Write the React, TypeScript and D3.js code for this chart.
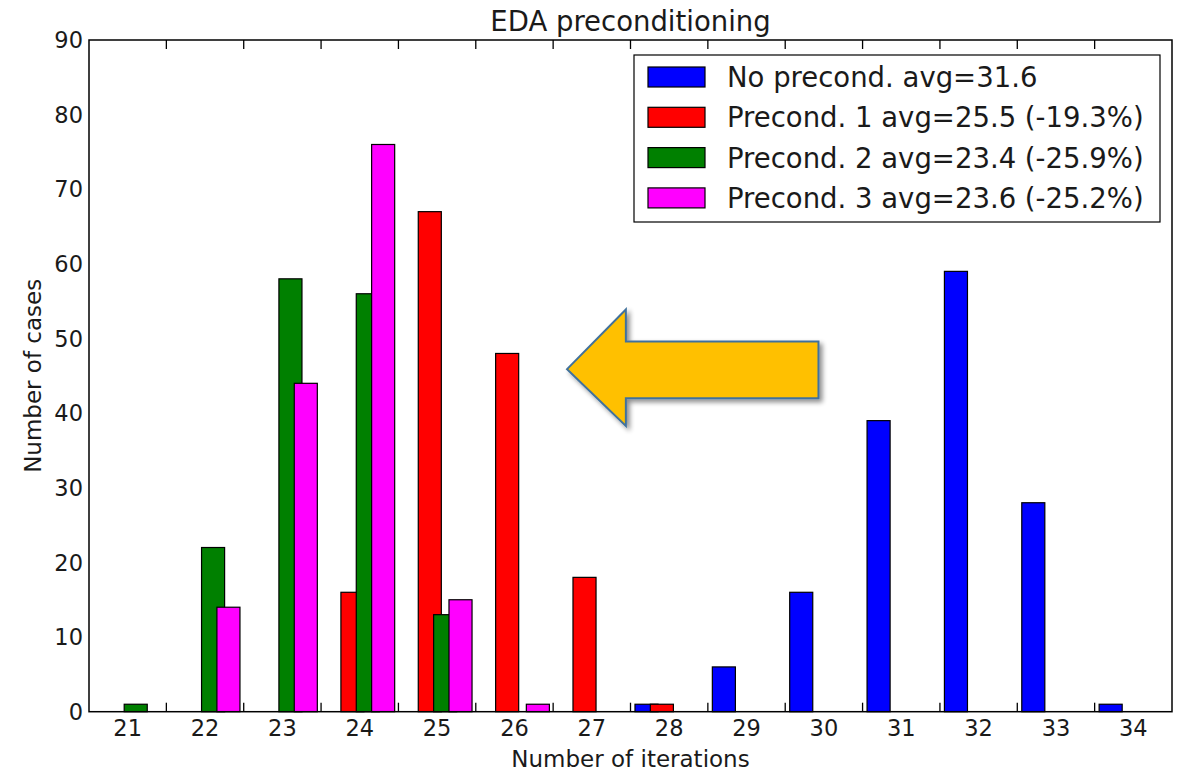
import React from "react";
import * as d3 from "d3";

const categories = [21, 22, 23, 24, 25, 26, 27, 28, 29, 30, 31, 32, 33, 34];
const noPrecond = [0, 0, 0, 0, 0, 0, 0, 1, 6, 16, 39, 59, 28, 1];
const precond1 = [0, 0, 0, 16, 67, 48, 18, 1, 0, 0, 0, 0, 0, 0];
const precond2 = [1, 22, 58, 56, 13, 0, 0, 0, 0, 0, 0, 0, 0, 0];
const precond3 = [0, 14, 44, 76, 15, 1, 0, 0, 0, 0, 0, 0, 0, 0];
const seriesNames = [
  "No precond. avg=31.6",
  "Precond. 1 avg=25.5 (-19.3%)",
  "Precond. 2 avg=23.4 (-25.9%)",
  "Precond. 3 avg=23.6 (-25.2%)",
];
const seriesColors = ["#0000ff", "#ff0000", "#008000", "#ff00ff"];
const yTicks = [0, 10, 20, 30, 40, 50, 60, 70, 80, 90];
const title = "EDA preconditioning";
const xLabel = "Number of iterations";
const yLabel = "Number of cases";

const W = 1183;
const H = 773;
const L = 89, R = 1172, T = 40, B = 711.7;
const FONT = "'DejaVu Sans', sans-serif";
const TXT = "#1a1a1a";

export default function App() {
  const x = d3.scaleLinear().domain([20.5, 34.5]).range([L, R]);
  const y = d3.scaleLinear().domain([0, 90]).range([B, T]);
  const series = [noPrecond, precond1, precond2, precond3];
  const offset0 = -0.442;
  const step = 0.1985;
  const bw = 0.298;
  const boundaries = categories.slice(0, -1).map((c) => c + 0.5);

  // arrow annotation in data coordinates
  const arrowPts: [number, number][] = [
    [26.68, 45.9],
    [27.44, 53.9],
    [27.44, 49.6],
    [29.93, 49.6],
    [29.93, 42.0],
    [27.44, 42.0],
    [27.44, 38.3],
  ];
  const arrowPath =
    "M" + arrowPts.map(([a, b]) => `${x(a)},${y(b)}`).join("L") + "Z";

  const legX = 634, legY = 55, legW = 526, legH = 167;
  const rowH = 40.3;

  return (
    <svg
      width={W}
      height={H}
      style={{ position: "absolute", left: 0, top: 0, background: "#fff" }}
      fontFamily={FONT}
    >
      <defs>
        <filter id="shadow" x="-20%" y="-20%" width="150%" height="150%">
          <feGaussianBlur in="SourceAlpha" stdDeviation="2.5" />
          <feOffset dx="3" dy="3" result="ob" />
          <feComponentTransfer>
            <feFuncA type="linear" slope="0.45" />
          </feComponentTransfer>
          <feMerge>
            <feMergeNode />
            <feMergeNode in="SourceGraphic" />
          </feMerge>
        </filter>
      </defs>
      <rect x={0} y={0} width={W} height={H} fill="#fff" />
      {/* bars */}
      {series.map((vals, si) =>
        vals.map((v, ci) =>
          v > 0 ? (
            <rect
              key={`${si}-${ci}`}
              x={x(categories[ci] + offset0 + si * step)}
              y={y(v)}
              width={x(categories[ci] + offset0 + si * step + bw) - x(categories[ci] + offset0 + si * step)}
              height={y(0) - y(v)}
              fill={seriesColors[si]}
              stroke="#000"
              strokeWidth={1.2}
            />
          ) : null
        )
      )}
      {/* frame */}
      <rect x={L} y={T} width={R - L} height={B - T} fill="none" stroke="#000" strokeWidth={1.5} />
      {/* x ticks */}
      {boundaries.map((b) => (
        <g key={b}>
          <line x1={x(b)} x2={x(b)} y1={B} y2={B - 9} stroke="#000" strokeWidth={1.3} />
          <line x1={x(b)} x2={x(b)} y1={T} y2={T + 9} stroke="#000" strokeWidth={1.3} />
        </g>
      ))}
      {categories.map((c) => (
        <text key={c} x={x(c)} y={736} textAnchor="middle" fontSize={22.5} fill={TXT}>
          {c}
        </text>
      ))}
      {yTicks.map((t) => (
        <text key={t} x={83} y={y(t)} dy="0.36em" textAnchor="end" fontSize={22.5} fill={TXT}>
          {t}
        </text>
      ))}
      <text x={(L + R) / 2} y={31} textAnchor="middle" fontSize={27.5} fill={TXT}>
        {title}
      </text>
      <text x={(L + R) / 2} y={767} textAnchor="middle" fontSize={23} fill={TXT}>
        {xLabel}
      </text>
      <text
        transform={`translate(41,${(T + B) / 2}) rotate(-90)`}
        textAnchor="middle"
        fontSize={23}
        fill={TXT}
      >
        {yLabel}
      </text>
      {/* arrow */}
      <path
        d={arrowPath}
        fill="#ffc000"
        stroke="#41719c"
        strokeWidth={2}
        strokeLinejoin="miter"
        filter="url(#shadow)"
      />
      {/* legend */}
      <rect x={legX} y={legY} width={legW} height={legH} fill="#fff" stroke="#000" strokeWidth={1.2} />
      {seriesNames.map((n, i) => (
        <g key={n}>
          <rect
            x={648}
            y={67 + i * rowH}
            width={57}
            height={20}
            fill={seriesColors[i]}
            stroke="#000"
            strokeWidth={1.2}
          />
          <text x={727} y={87 + i * rowH} fontSize={27.5} fill={TXT}>
            {n}
          </text>
        </g>
      ))}
    </svg>
  );
}
